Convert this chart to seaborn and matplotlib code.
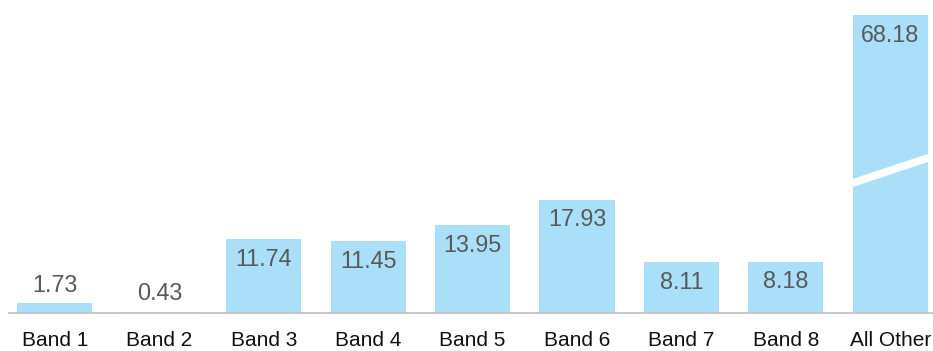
import matplotlib
matplotlib.use("Agg")
import matplotlib.pyplot as plt
import matplotlib.transforms as mtransforms
from matplotlib import font_manager
import seaborn as sns
import pandas as pd

categories = ["Band 1", "Band 2", "Band 3", "Band 4", "Band 5", "Band 6", "Band 7", "Band 8", "All Other"]
values = [1.73, 0.43, 11.74, 11.45, 13.95, 17.93, 8.11, 8.18, 68.18]
labels = ["1.73", "0.43", "11.74", "11.45", "13.95", "17.93", "8.11", "8.18", "68.18"]

sns.set_theme(style="white")

narrow = False
try:
    p = font_manager.findfont(font_manager.FontProperties(family="Liberation Sans Narrow"),
                              fallback_to_default=False)
    narrow = "Narrow" in p
except Exception:
    narrow = False

if narrow:
    plt.rcParams["font.family"] = ["Liberation Sans Narrow", "Liberation Sans", "DejaVu Sans"]
    val_fs, tick_fs = 19, 17
else:
    plt.rcParams["font.family"] = ["Liberation Sans", "DejaVu Sans"]
    val_fs, tick_fs = 16.8, 15

W, H = 933, 351
fig = plt.figure(figsize=(W / 100, H / 100), dpi=100)
ax = fig.add_axes([9.5 / W, 38 / H, 1 - 9.5 / W, 298 / H])

df = pd.DataFrame({"cat": categories, "val": values})
sns.barplot(data=df, x="cat", y="val", color="#AADFFA", saturation=1,
            width=0.72, ax=ax, linewidth=0)

ylo, yhi = 0.2, 0.2 + 298 / 6.4
ax.set_ylim(ylo, yhi)
ax.set_xlim(-0.434, 8.409)

for s in ["top", "right", "left"]:
    ax.spines[s].set_visible(False)
ax.spines["bottom"].set_color("#BFBFBF")
ax.spines["bottom"].set_linewidth(1.2)
ax.set_yticks([])
ax.set_xlabel("")
ax.set_ylabel("")
ax.tick_params(axis="x", length=0, pad=13, labelsize=tick_fs, labelcolor="#111111")

px = 72 / 100
for i, (v, lab) in enumerate(zip(values, labels)):
    top = min(v, yhi)
    if v < 5:
        ax.annotate(lab, (i, top), xytext=(0, 18 * px), textcoords="offset points",
                    ha="center", va="center", fontsize=val_fs, color="#595959")
    else:
        ax.annotate(lab, (i, top), xytext=(0, -20 * px), textcoords="offset points",
                    ha="center", va="center", fontsize=val_fs, color="#595959")

# break mark on the clipped last bar
trans = mtransforms.blended_transform_factory(ax.transData, ax.transAxes)
n = len(values) - 1
x0, x1 = n - 0.36, n + 0.36
y0, y1 = (313 - 183) / 298, (313 - 158) / 298
slope = (y1 - y0) / (x1 - x0)
ax.plot([x0 - 0.05, x1 + 0.05], [y0 - 0.05 * slope, y1 + 0.05 * slope],
        color="white", lw=5.5, transform=trans, solid_capstyle="butt", clip_on=False)

fig.savefig("out.png", dpi=100)
